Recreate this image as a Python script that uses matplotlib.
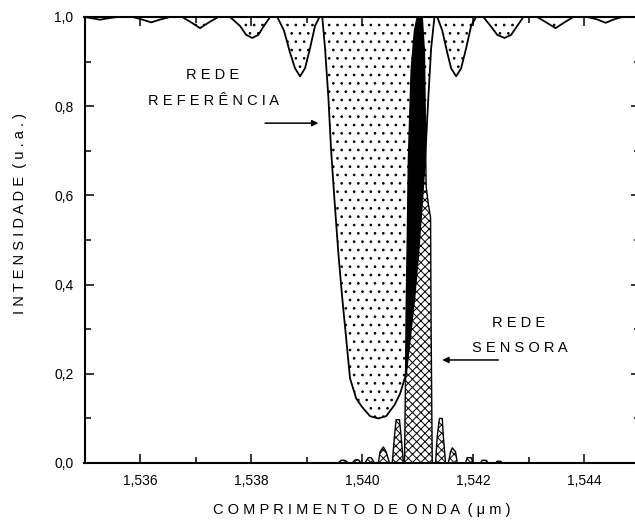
import numpy as np
import matplotlib
matplotlib.use('Agg')
import matplotlib.pyplot as plt
from matplotlib.patches import Polygon
from matplotlib.ticker import MultipleLocator, FuncFormatter

# reference grating: transmission spectrum (um, a.u.)
ref_wl = [1.53500, 1.53514, 1.53528, 1.53542, 1.53559,
          1.53587, 1.53602, 1.53620, 1.53638, 1.53654,
          1.53676, 1.53692, 1.53708, 1.53724, 1.53741,
          1.53762, 1.53780, 1.53791, 1.53802, 1.53813, 1.53823, 1.53834,
          1.53847, 1.53859, 1.53870, 1.53879, 1.53888, 1.53897, 1.53906, 1.53915, 1.53923,
          1.53928, 1.53933, 1.53939, 1.53944, 1.53950, 1.53957, 1.53964, 1.53971, 1.53978,
          1.53989, 1.54000, 1.54014, 1.54029, 1.54043, 1.54058, 1.54068, 1.54079, 1.54086,
          1.54094, 1.54101, 1.54108, 1.54114, 1.54119, 1.54124, 1.54130,
          1.54135, 1.54144, 1.54153, 1.54160, 1.54169, 1.54178, 1.54187, 1.54196, 1.54205,
          1.54218, 1.54231, 1.54243, 1.54256, 1.54268, 1.54279, 1.54290,
          1.54315, 1.54331, 1.54348, 1.54364, 1.54380,
          1.54405, 1.54422, 1.54438, 1.54454, 1.54468, 1.54500]
ref_int = [1.0, 0.997, 0.994, 0.997, 1.0,
           1.0, 0.995, 0.988, 0.995, 1.0,
           1.0, 0.988, 0.975, 0.988, 1.0,
           1.0, 0.98, 0.96, 0.953, 0.96, 0.98, 1.0,
           1.0, 0.97, 0.92, 0.885, 0.867, 0.885, 0.93, 0.98, 1.0,
           1.0, 0.93, 0.82, 0.70, 0.59, 0.47, 0.37, 0.28, 0.19,
           0.145, 0.125, 0.105, 0.10, 0.105, 0.13, 0.155, 0.20, 0.28,
           0.37, 0.47, 0.59, 0.70, 0.82, 0.93, 1.0,
           1.0, 0.97, 0.92, 0.885, 0.867, 0.885, 0.93, 0.98, 1.0,
           1.0, 0.98, 0.96, 0.953, 0.96, 0.98, 1.0,
           1.0, 0.988, 0.975, 0.988, 1.0,
           1.0, 0.995, 0.987, 0.995, 1.0, 1.0]

# sensor grating: reflection spectrum
sen_wl = [1.53888, 1.53957, 1.53962, 1.53969, 1.53975, 1.53982, 1.53987, 1.53993, 1.53998,
          1.54005, 1.54011, 1.54016, 1.54022, 1.54029, 1.54032, 1.54038, 1.54043, 1.54049,
          1.54054, 1.54058, 1.54061, 1.54067, 1.54070, 1.54074,
          1.54076, 1.54078, 1.54079, 1.54081, 1.54083, 1.54088, 1.54094, 1.54099,
          1.54108, 1.54112, 1.54115, 1.54119, 1.54123, 1.54124, 1.54126,
          1.54132, 1.54135, 1.54139, 1.54144, 1.54146, 1.54150,
          1.54155, 1.54159, 1.54162, 1.54168, 1.54171,
          1.54186, 1.54189, 1.54196, 1.54200,
          1.54213, 1.54216, 1.54223, 1.54227,
          1.54240, 1.54243, 1.54249, 1.54252, 1.54321]
sen_int = [0, 0, 0.006, 0.006, 0, 0, 0.007, 0.007, 0,
           0, 0.012, 0.012, 0, 0, 0.025, 0.036, 0.025, 0,
           0, 0.06, 0.097, 0.097, 0.06, 0,
           0, 0.2, 0.34, 0.5, 0.68, 0.88, 0.97, 1.0,
           1.0, 0.92, 0.62, 0.58, 0.55, 0.3, 0,
           0, 0.06, 0.1, 0.1, 0.06, 0,
           0, 0.025, 0.034, 0.025, 0,
           0, 0.012, 0.012, 0,
           0, 0.006, 0.006, 0,
           0, 0.004, 0.004, 0, 0]


def spaced(s):
    # letter-spaced caption text, a wider gap between words
    return '  '.join(' '.join(w) for w in s.split(' '))


plt.rcParams['font.family'] = ['Liberation Sans', 'DejaVu Sans']
plt.rcParams['hatch.linewidth'] = 0.7

fig = plt.figure(figsize=(6.35, 5.26), dpi=100)
ax = fig.add_axes([84.5 / 635, 63 / 526, 555.5 / 635, 446 / 526])

# dotted area inside the reference dip
ax.fill_between(ref_wl, ref_int, 1.0, facecolor='white', edgecolor='black',
                hatch='..', linewidth=0, zorder=1)

pts = np.column_stack([ref_wl, ref_int])
above = Polygon(np.vstack([pts, [[1.5455, 1.1], [1.5345, 1.1]]]), closed=True,
                transform=ax.transData)
below = Polygon(np.vstack([pts, [[1.5455, -0.1], [1.5345, -0.1]]]), closed=True,
                transform=ax.transData)

# overlap of the sensor peak with the reference dip -> black
blk = ax.fill_between(sen_wl, 0, sen_int, facecolor='black', linewidth=0, zorder=2)
blk.set_clip_path(above)
# remaining part of the sensor spectrum -> cross hatch
crs = ax.fill_between(sen_wl, 0, sen_int, facecolor='white', edgecolor='black',
                      hatch='xxxx', linewidth=0, zorder=2)
crs.set_clip_path(below)

ax.plot(ref_wl, ref_int, color='black', lw=1.3, zorder=3)
ax.plot(sen_wl, sen_int, color='black', lw=1.0, zorder=3)

ax.set_xlim(1.535, 1.545)
ax.set_ylim(0, 1.0)
ax.xaxis.set_major_locator(MultipleLocator(0.002))
ax.xaxis.set_minor_locator(MultipleLocator(0.001))
ax.yaxis.set_major_locator(MultipleLocator(0.2))
ax.yaxis.set_minor_locator(MultipleLocator(0.1))
ax.xaxis.set_major_formatter(FuncFormatter(lambda v, p: f'{v:.3f}'.replace('.', ',')))
ax.yaxis.set_major_formatter(FuncFormatter(lambda v, p: f'{v:.1f}'.replace('.', ',')))
ax.tick_params(which='both', direction='in', top=True, right=True, width=1.1,
               labelsize=10)
ax.tick_params(which='major', length=6.5, pad=8)
ax.tick_params(which='minor', length=4)
for sp in ax.spines.values():
    sp.set_linewidth(1.5)

ax.text(1.53730, 0.870, spaced('REDE'), ha='center', va='center', fontsize=10.5)
ax.text(1.53732, 0.812, spaced('REFERÊNCIA'), ha='center', va='center', fontsize=10.5)
ax.annotate('', xy=(1.53921, 0.762), xytext=(1.53825, 0.762),
            arrowprops=dict(arrowstyle='-|>', color='black', lw=1.1,
                            mutation_scale=9, shrinkA=0, shrinkB=0))

ax.text(1.54281, 0.314, spaced('REDE'), ha='center', va='center', fontsize=10.5)
ax.text(1.54283, 0.258, spaced('SENSORA'), ha='center', va='center', fontsize=10.5)
ax.annotate('', xy=(1.54144, 0.231), xytext=(1.54245, 0.231),
            arrowprops=dict(arrowstyle='-|>', color='black', lw=1.1,
                            mutation_scale=9, shrinkA=0, shrinkB=0))

fig.text(362 / 635, 1 - 510 / 526, spaced('COMPRIMENTO DE ONDA (μm)'),
         ha='center', va='center', fontsize=10.5)
fig.text(20 / 635, 1 - 213 / 526, spaced('INTENSIDADE (u.a.)'), rotation=90,
         ha='center', va='center', fontsize=10.5)

fig.savefig('out.png', dpi=100)
